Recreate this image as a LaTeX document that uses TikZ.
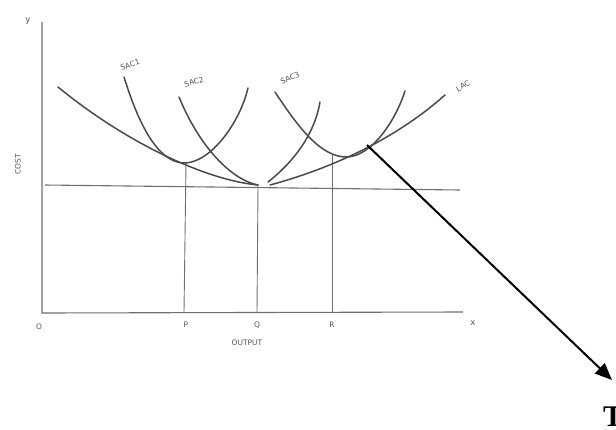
\documentclass[tikz,border=0pt]{standalone}
\usepackage{fontspec}
\setmainfont{Liberation Serif}
\setsansfont{DejaVu Sans}
\usetikzlibrary{arrows.meta}
\definecolor{axisgray}{HTML}{707070}
\definecolor{curvegray}{HTML}{4A4A4A}
\definecolor{labelgray}{HTML}{555555}
\tikzset{
  axisline/.style={draw=axisgray, line width=1.1pt},
  guide/.style={draw=axisgray, line width=0.9pt},
  curve/.style={draw=curvegray, line width=1.5pt, line cap=round},
  hand/.style={text=labelgray, font=\sffamily\fontsize{7.5}{8}\selectfont, inner sep=0pt},
  pointer/.style={draw=black, line width=2pt, -{Triangle[length=17pt,width=14pt]}}
}
\begin{document}
\begin{tikzpicture}[x=1pt,y=-1pt]
\useasboundingbox (0,0) rectangle (616,429);
% axes
\coordinate (O) at (42,313);
\coordinate (ytop) at (42,22);
\coordinate (xend) at (463,312);
\draw[axisline] (ytop) -- (O) -- (xend);
% horizontal min-cost line
\coordinate (hl) at (45,185);
\coordinate (hr) at (460,190);
\draw[axisline] (hl) -- (hr);
% minimum points
\coordinate (Pm) at (186,163);
\coordinate (Qm) at (258,185);
\coordinate (Rm) at (332,155);
\coordinate (Pb) at (184,312);
\coordinate (Qb) at (257,312);
\coordinate (Rb) at (332,312);
\draw[guide] (Pm) -- (Pb);
\draw[guide] (Qm) -- (Qb);
\draw[guide] (Rm) -- (Rb);
% LAC
\draw[curve] (58,87) .. controls (125,142) and (205,180) .. (Qm);
\draw[curve] (270,185) .. controls (340,166) and (400,135) .. (445,95);
% SAC1
\draw[curve] (124,77) .. controls (142,135) and (162,164) .. (Pm)
  .. controls (212,161) and (240,122) .. (248,88);
% SAC2
\draw[curve] (179,97) .. controls (200,148) and (232,180) .. (Qm);
\draw[curve] (268,182) .. controls (296,160) and (315,132) .. (320,102);
% SAC3
\draw[curve] (275,92) .. controls (300,130) and (322,158) .. (348,157)
  .. controls (372,155) and (395,122) .. (405,91);
% labels
\node[hand, rotate=20] (sac1) at (130,65) {SAC1};
\node[hand, rotate=15] (sac2) at (194,82) {SAC2};
\node[hand, rotate=25] (sac3) at (290,78) {SAC3};
\node[hand, rotate=30] (lac) at (463,86) {LAC};
\node[hand, font=\sffamily\fontsize{8.5}{9}\selectfont] (ylab) at (28,21) {y};
\node[hand, font=\sffamily\fontsize{8.5}{9}\selectfont] (xlab) at (473,323) {x};
\node[hand] (olab) at (39,327) {O};
\node[hand] (plab) at (186,325) {P};
\node[hand] (qlab) at (257,325) {Q};
\node[hand] (rlab) at (332,325) {R};
\node[hand] (out) at (247,343) {OUTPUT};
\node[hand, rotate=90] (cost) at (18,164) {COST};
% pointer
\coordinate (tan) at (367,145);
\coordinate (tip) at (612,380);
\draw[pointer] (tan) -- (tip);
\node[anchor=base west, inner sep=0pt, font=\bfseries\fontsize{30}{30}\selectfont] (T) at (603,426) {T};
\end{tikzpicture}
\end{document}
